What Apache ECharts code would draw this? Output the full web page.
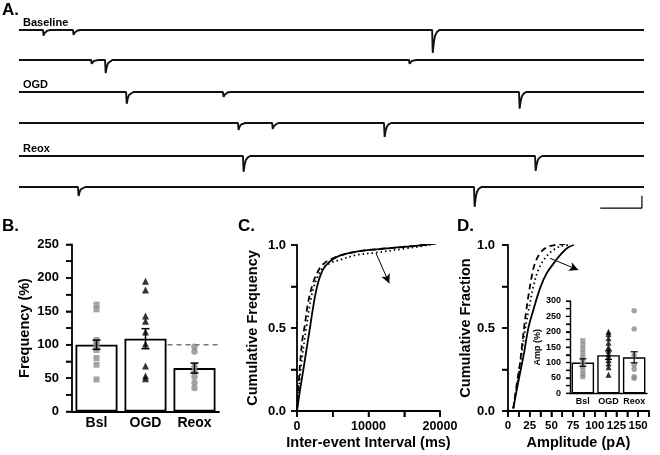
<!DOCTYPE html>
<html><head><meta charset="utf-8">
<script src="https://cdn.jsdelivr.net/npm/echarts@6/dist/echarts.min.js"></script>
<style>html,body{margin:0;padding:0;background:#fff}#c{width:660px;height:455px}</style>
</head><body><div id="c"></div>
<script>
// ---------------- DATA ----------------
// Panel A: spontaneous currents, events per trace [time (ms), amplitude (pA)]
const traceLabels = ['Baseline', '', 'OGD', '', 'Reox', ''];
const traceDuration = 3000; // ms
const traceEvents = [
  [[115, 18], [259, 16], [1983, 74]],
  [[346, 12], [413, 42], [1872, 12]],
  [[514, 38], [979, 16], [2400, 54]],
  [[1051, 22], [1215, 19], [1752, 45]],
  [[1075, 51], [2477, 48]],
  [[283, 29], [2184, 64]]
];
// normalised event waveform [ms after onset, fraction of amplitude]
const eventShape = [[0, 0], [3, -1], [8, -0.55], [14, -0.25], [22, -0.1], [35, 0]];
const scaleBarMs = 200, scaleBarPA = 40;
const scaleBarLabels = ['40pA', '200ms'];

// Panel B: frequency (%)
const groups = ['Bsl', 'OGD', 'Reox'];
const freqMean = [100, 109, 65];
const freqSem = [7, 15, 7.5];
const freqBsl = [160, 153, 107, 103, 98, 92, 80, 70, 48];
const freqOGD = [195, 182, 143, 135, 119, 101, 68, 53, 49];
const freqReox = [97, 90, 67, 60, 52, 43, 35];
const freqRef = 100;
const freqSig = 147; // asterisk height
const freqTicks = [0, 25, 50, 75, 100, 125, 150, 175, 200, 225, 250];

// Panel C: cumulative inter-event interval [ms, fraction]
const ieiBaseline = [[0,0],[400,0.12],[890,0.25],[1770,0.49],[2700,0.73],[3600,0.85],[4570,0.9],[5970,0.936],[8300,0.96],[11100,0.974],[15300,0.99],[18500,1.004],[19500,1.012]];
const ieiOGD = [[0,0],[370,0.25],[750,0.43],[1070,0.51],[1540,0.65],[2240,0.77],[3170,0.86],[4100,0.9],[5030,0.92],[5970,0.936],[8300,0.96],[11100,0.974],[15300,0.99],[18500,1.004],[19500,1.012]];
const ieiReox = [[0,0],[510,0.25],[1300,0.5],[2240,0.73],[3400,0.85],[4570,0.89],[5970,0.91],[8300,0.94],[11100,0.954],[15300,0.98],[17600,0.994],[19500,1.01]];
const ieiTicks = [0, 5000, 10000, 15000, 20000];
const cumTicks = [0, 0.25, 0.5, 0.75, 1];

// Panel D: cumulative amplitude [pA, fraction]
const ampBaseline = [[6.1,0.016],[10.8,0.147],[14.6,0.247],[18.4,0.347],[23.4,0.498],[29.2,0.608],[36.9,0.739],[44.5,0.829],[54.1,0.9],[61.8,0.95],[69.5,0.986],[76,1.0]];
const ampOGD = [[6.1,0.016],[10.8,0.187],[13.8,0.287],[16.9,0.428],[19.6,0.548],[23.4,0.689],[27.3,0.809],[31.1,0.89],[36.9,0.95],[44.5,0.986],[54.1,1.0],[63.7,1.006],[71.4,1.01]];
const ampReox = [[6.1,0.016],[11.9,0.207],[15.7,0.347],[19.6,0.488],[24.6,0.629],[29.2,0.749],[34.9,0.849],[42.6,0.92],[52.2,0.97],[61.8,0.994],[71.4,1.0]];
const ampTicks = [0, 12.5, 25, 37.5, 50, 62.5, 75, 87.5, 100, 112.5, 125, 137.5, 150, 162.5];

// Panel D inset: amplitude (%)
const ampMean = [100, 124, 117];
const ampSem = [12, 14, 18];
const ampBsl = [171, 157, 143, 130, 117, 103, 89, 76, 63, 54];
const ampOGDpts = [200, 193, 179, 164, 150, 139, 128, 119, 108, 97, 85, 60];
const ampReoxPts = [268, 209, 124, 92, 78, 54, 49];
const ampPctTicks = [0, 25, 50, 75, 100, 125, 150, 175, 200, 225, 250, 275, 300];

// annotations [text, x, y] and arrows
const annC = [['OGD', 1260, 0.93], ['Baseline', 2940, 0.518], ['Reox', 12300, 0.70]];
const arrowC = [[11050, 0.95], [12900, 0.77]];
const annD = [['OGD', 10, 0.976], ['Baseline', 44.6, 0.779], ['Reox', 83, 0.85]];
const arrowD = [[48.4, 0.92], [81, 0.85]];

// ---------------- LAYOUT / STYLE ----------------
const FONT = 'Liberation Sans, Arial, Helvetica, sans-serif';
const BLACK = '#000', GRAY = '#8c8c8c';
const rowBaseY = [30, 60, 92, 123, 156, 187];
const pxPerPA = 0.31;

const grids = [], xAxes = [], yAxes = [], series = [];

function traceData(events) {
  const pts = [[0, 0]];
  events.forEach(([t, a]) => eventShape.forEach(([dt, f]) => pts.push([t + dt, f * a])));
  pts.push([traceDuration, 0]);
  return pts;
}

// Panel A grids 0..5
traceEvents.forEach((ev, i) => {
  grids.push({ left: 19, width: 625, top: rowBaseY[i] - 10 * pxPerPA, height: 110 * pxPerPA });
  xAxes.push({ gridIndex: i, type: 'value', min: 0, max: traceDuration, show: false });
  yAxes.push({ gridIndex: i, type: 'value', min: -100, max: 10, show: false });
  series.push({ type: 'line', xAxisIndex: i, yAxisIndex: i, data: traceData(ev), symbol: 'none',
    lineStyle: { color: '#111', width: 1.9 }, silent: true, clip: false });
});
const sbX = 2990, sbY = -68;
series.push({ type: 'line', xAxisIndex: 5, yAxisIndex: 5, symbol: 'none', silent: true, clip: false,
  data: [[sbX - scaleBarMs, sbY], [sbX, sbY], [sbX, sbY + scaleBarPA]],
  lineStyle: { color: BLACK, width: 1.2 } });
series.push({ type: 'scatter', xAxisIndex: 5, yAxisIndex: 5, symbolSize: 1, itemStyle: { opacity: 0 }, silent: true, clip: false,
  data: [{ value: [sbX - scaleBarMs / 2, sbY + 16], name: scaleBarLabels[0] }, { value: [sbX - scaleBarMs / 2, sbY - 22], name: scaleBarLabels[1] }],
  label: { show: true, position: 'inside', formatter: p => p.name, color: BLACK, fontFamily: FONT, fontWeight: 'bold', fontSize: 9.5 } });

function axisCommon(extra) {
  return Object.assign({
    axisLine: { show: true, lineStyle: { color: BLACK, width: 1.8 } },
    axisTick: { show: true, length: 6, lineStyle: { color: BLACK, width: 1.5 } },
    minorTick: { show: true, splitNumber: 2, length: 6, lineStyle: { color: BLACK, width: 1.5 } },
    splitLine: { show: false },
    axisLabel: { color: BLACK, fontFamily: FONT, fontWeight: 'bold', fontSize: 13 },
    nameTextStyle: { color: BLACK, fontFamily: FONT, fontWeight: 'bold', fontSize: 14.5 }
  }, extra);
}

// axis ticks drawn through the axes' own scales
function tickSeries(xi, yi, values, orient, len, lw) {
  return { type: 'custom', xAxisIndex: xi, yAxisIndex: yi, clip: false, silent: true, z: 6,
    encode: { x: 0, y: 1 },
    data: values.map(v => orient === 'y' ? [0, v] : [v, 0]),
    renderItem: function (params, api) {
      const p = api.coord([api.value(0), api.value(1)]);
      const shape = orient === 'y'
        ? { x1: p[0], y1: p[1], x2: p[0] - len, y2: p[1] }
        : { x1: p[0], y1: p[1], x2: p[0], y2: p[1] + len };
      return { type: 'line', shape, style: { stroke: BLACK, lineWidth: lw } };
    } };
}

// Panel B
grids.push({ left: 72, top: 244.5, width: 147, height: 167 });
xAxes.push(axisCommon({ gridIndex: 6, type: 'category', data: groups, axisTick: { show: false }, minorTick: { show: false },
  axisLabel: { color: BLACK, fontFamily: FONT, fontWeight: 'bold', fontSize: 14, margin: 5, interval: 0 } }));
xAxes.push({ gridIndex: 6, type: 'value', min: 0, max: 3, show: false });
yAxes.push(axisCommon({ gridIndex: 6, type: 'value', min: 0, max: 250, interval: 50,
  name: 'Frequency (%)', nameLocation: 'middle', nameGap: 40,
  axisLabel: { color: BLACK, fontFamily: FONT, fontWeight: 'bold', fontSize: 13, margin: 13 } }));

function errBars(capW, lw) {
  return function (params, api) {
    const x = api.value(0), m = api.value(1), e = api.value(2);
    const t = api.coord([x, m + e]), b = api.coord([x, m - e]);
    const st = { stroke: BLACK, lineWidth: lw };
    return { type: 'group', children: [
      { type: 'line', shape: { x1: t[0], y1: t[1], x2: b[0], y2: b[1] }, style: st },
      { type: 'line', shape: { x1: t[0] - capW, y1: t[1], x2: t[0] + capW, y2: t[1] }, style: st },
      { type: 'line', shape: { x1: b[0] - capW, y1: b[1], x2: b[0] + capW, y2: b[1] }, style: st }
    ] };
  };
}

series.push({ type: 'bar', xAxisIndex: 6, yAxisIndex: 6, data: freqMean, barWidth: 42,
  itemStyle: { color: '#fff', borderColor: BLACK, borderWidth: 1.8 }, silent: true });
series.push({ type: 'scatter', xAxisIndex: 6, yAxisIndex: 6, data: freqBsl.map(v => [0, v]), symbol: 'rect', symbolSize: 6, itemStyle: { color: GRAY }, silent: true });
series.push({ type: 'scatter', xAxisIndex: 6, yAxisIndex: 6, data: freqOGD.map(v => [1, v]), symbol: 'triangle', symbolSize: 7, itemStyle: { color: BLACK }, silent: true });
series.push({ type: 'scatter', xAxisIndex: 6, yAxisIndex: 6, data: freqReox.map(v => [2, v]), symbol: 'circle', symbolSize: 6.5, itemStyle: { color: GRAY }, silent: true });
series.push({ type: 'custom', xAxisIndex: 6, yAxisIndex: 6, renderItem: errBars(4, 1.5), encode: { x: 0, y: 1 },
  data: freqMean.map((m, i) => [i, m, freqSem[i]]), silent: true, z: 5 });
series.push({ type: 'line', xAxisIndex: 7, yAxisIndex: 6, data: [[1.95, freqRef], [3, freqRef]], symbol: 'none',
  lineStyle: { color: '#777', width: 1.6, type: [5, 4] }, silent: true });
series.push({ type: 'scatter', xAxisIndex: 6, yAxisIndex: 6, data: [[2, freqSig]], symbolSize: 1, itemStyle: { opacity: 0 }, silent: true,
  label: { show: true, position: 'inside', formatter: '*', color: BLACK, fontFamily: FONT, fontWeight: 'bold', fontSize: 20, offset: [0, 3] } });
series.push(tickSeries(7, 6, freqTicks, 'y', 6, 1.5));

// Panel C
grids.push({ left: 297, top: 245, width: 143, height: 166 });
xAxes.push(axisCommon({ gridIndex: 7, type: 'value', min: 0, max: 20000, interval: 10000,
  name: 'Inter-event Interval (ms)', nameLocation: 'middle', nameGap: 24,
  axisLabel: { color: BLACK, fontFamily: FONT, fontWeight: 'bold', fontSize: 12.5, margin: 9, formatter: v => String(v) } }));
yAxes.push(axisCommon({ gridIndex: 7, type: 'value', min: 0, max: 1, interval: 0.5,
  name: 'Cumulative Frequency', nameLocation: 'middle', nameGap: 37,
  axisLabel: { color: BLACK, fontFamily: FONT, fontWeight: 'bold', fontSize: 13, margin: 11, formatter: v => v.toFixed(1) } }));

function cumLine(xi, yi, data, type) {
  return { type: 'line', xAxisIndex: xi, yAxisIndex: yi, data, symbol: 'none', smooth: 0.35, silent: true,
    lineStyle: { color: BLACK, width: 1.8, type } };
}
function annSeries(xi, yi, ann, arrow) {
  return { type: 'scatter', xAxisIndex: xi, yAxisIndex: yi, symbolSize: 1, itemStyle: { opacity: 0 }, silent: true,
    data: ann.map(a => ({ value: [a[1], a[2]], name: a[0] })),
    label: { show: true, position: 'right', distance: 0, formatter: p => p.name, color: BLACK, fontFamily: FONT, fontWeight: 'bold', fontSize: 9.5 },
    markLine: { silent: true, symbol: ['none', 'arrow'], symbolSize: [7, 9], label: { show: false },
      lineStyle: { color: BLACK, width: 1, type: 'solid' },
      data: [[{ coord: arrow[0] }, { coord: arrow[1] }]] } };
}
series.push(cumLine(8, 7, ieiReox, [1.5, 3]));
series.push(cumLine(8, 7, ieiOGD, [6, 4]));
series.push(cumLine(8, 7, ieiBaseline, 'solid'));
series.push(annSeries(8, 7, annC, arrowC));
series.push(tickSeries(8, 7, ieiTicks, 'x', 6, 1.5));
series.push(tickSeries(8, 7, cumTicks, 'y', 6, 1.5));

// Panel D
grids.push({ left: 508, top: 245, width: 141, height: 166 });
xAxes.push(axisCommon({ gridIndex: 8, type: 'value', min: 0, max: 162.5, interval: 12.5,
  minorTick: { show: false },
  name: 'Amplitude (pA)', nameLocation: 'middle', nameGap: 24,
  axisLabel: { color: BLACK, fontFamily: FONT, fontWeight: 'bold', fontSize: 11.5, margin: 9,
    formatter: v => (v % 25 === 0 && v <= 150) ? String(v) : '' } }));
yAxes.push(axisCommon({ gridIndex: 8, type: 'value', min: 0, max: 1, interval: 0.5,
  name: 'Cumulative Fraction', nameLocation: 'middle', nameGap: 34,
  axisLabel: { color: BLACK, fontFamily: FONT, fontWeight: 'bold', fontSize: 13, margin: 13, formatter: v => v.toFixed(1) } }));
series.push(cumLine(9, 8, ampReox, [1.5, 3]));
series.push(cumLine(9, 8, ampOGD, [6, 4]));
series.push(cumLine(9, 8, ampBaseline, 'solid'));
series.push(annSeries(9, 8, annD, arrowD));
series.push(tickSeries(9, 8, ampTicks, 'x', 6, 1.5));
series.push(tickSeries(9, 8, cumTicks, 'y', 6, 1.5));

// Inset
grids.push({ left: 570, top: 301, width: 77, height: 92.3 });
const small = { color: BLACK, fontFamily: FONT, fontWeight: 'bold', fontSize: 9 };
xAxes.push(axisCommon({ gridIndex: 9, type: 'category', data: groups, axisTick: { show: false }, minorTick: { show: false },
  axisLine: { show: true, lineStyle: { color: BLACK, width: 1.4 } },
  axisLabel: Object.assign({ margin: 4, interval: 0 }, small) }));
xAxes.push({ gridIndex: 9, type: 'value', min: 0, max: 1, show: false });
yAxes.push(axisCommon({ gridIndex: 9, type: 'value', min: 0, max: 300, interval: 50,
  axisLine: { show: true, lineStyle: { color: BLACK, width: 1.4 } },
  axisTick: { show: true, length: 4, lineStyle: { color: BLACK, width: 1.2 } },
  minorTick: { show: true, splitNumber: 2, length: 4, lineStyle: { color: BLACK, width: 1.2 } },
  name: 'Amp (%)', nameLocation: 'middle', nameGap: 25, nameTextStyle: small,
  axisLabel: Object.assign({ margin: 9 }, small) }));
series.push({ type: 'bar', xAxisIndex: 10, yAxisIndex: 9, data: ampMean, barWidth: 22.5,
  itemStyle: { color: '#fff', borderColor: BLACK, borderWidth: 1.4 }, silent: true });
series.push({ type: 'scatter', xAxisIndex: 10, yAxisIndex: 9, data: ampBsl.map(v => [0, v]), symbol: 'rect', symbolSize: 5, itemStyle: { color: GRAY }, silent: true });
series.push({ type: 'scatter', xAxisIndex: 10, yAxisIndex: 9, data: ampOGDpts.map(v => [1, v]), symbol: 'triangle', symbolSize: 6, itemStyle: { color: BLACK }, silent: true });
series.push({ type: 'scatter', xAxisIndex: 10, yAxisIndex: 9, data: ampReoxPts.map(v => [2, v]), symbol: 'circle', symbolSize: 5.5, itemStyle: { color: GRAY }, silent: true });
series.push({ type: 'custom', xAxisIndex: 10, yAxisIndex: 9, renderItem: errBars(3.5, 1.2), encode: { x: 0, y: 1 },
  data: ampMean.map((m, i) => [i, m, ampSem[i]]), silent: true, z: 5 });
series.push(tickSeries(11, 9, ampPctTicks, 'y', 4, 1.2));

// text labels
const panelLetters = [['A.', 2, 10], ['B.', 2, 226], ['C.', 238, 226], ['D.', 457, 226]];
const graphics = panelLetters.map(([t, x, y]) => ({ type: 'text', x, y, style: { text: t, fill: BLACK, font: 'bold 17px ' + FONT, verticalAlign: 'middle' } }));
traceLabels.forEach((t, i) => {
  if (t) graphics.push({ type: 'text', x: 23, y: rowBaseY[i] - 7, style: { text: t, fill: BLACK, font: 'bold 11px ' + FONT, verticalAlign: 'middle' } });
});

const chart = echarts.init(document.getElementById('c'));
chart.setOption({
  animation: false,
  backgroundColor: '#fff',
  textStyle: { fontFamily: FONT },
  grid: grids, xAxis: xAxes, yAxis: yAxes, series
});
chart.setOption({ graphic: graphics });
</script></body></html>
